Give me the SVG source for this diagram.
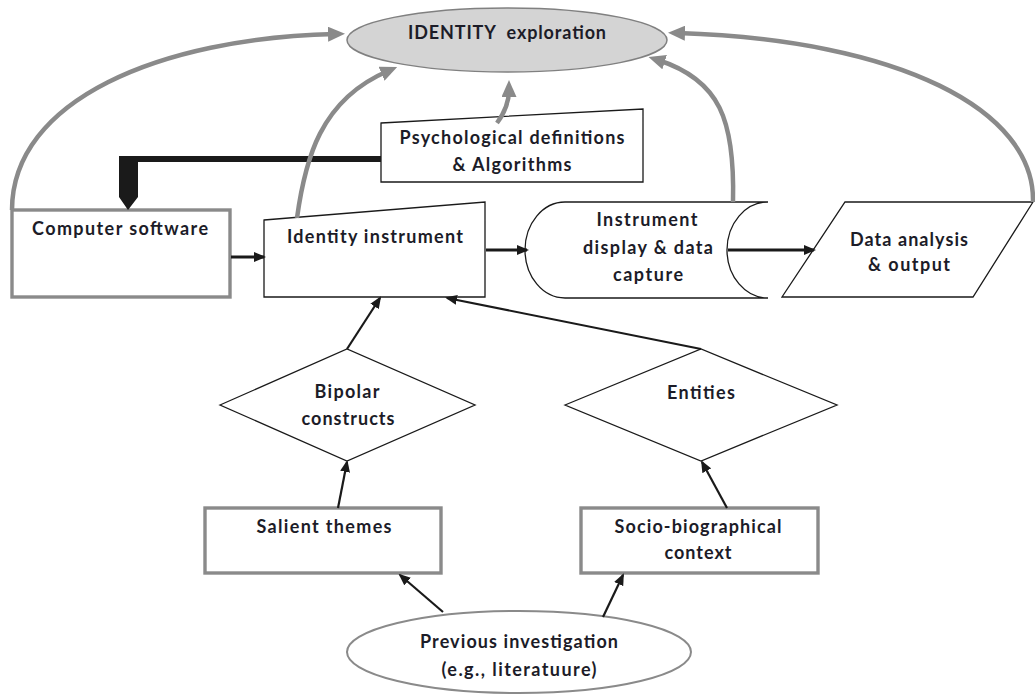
<svg xmlns="http://www.w3.org/2000/svg" width="1035" height="695" viewBox="0 0 1035 695">
  <style>
    .lbl { font-family: Lato, "Open Sans", "Liberation Sans", sans-serif; font-weight: bold; font-size: 18px; fill: #1c1c28; text-anchor: middle; white-space: pre; }
    .thin { fill: #ffffff; stroke: #1a1a1a; stroke-width: 1.3; }
    .grey { fill: #ffffff; stroke: #8a8a8a; stroke-width: 3.4; }
    .flow { fill: none; stroke: #1a1a1a; stroke-width: 2.2; marker-end: url(#arrow-black); }
    .flow-bold { fill: none; stroke: #1a1a1a; stroke-width: 3; marker-end: url(#arrow-black); }
    .feedback { fill: none; stroke: #8a8a8a; stroke-width: 4.5; marker-end: url(#arrow-grey); }
  </style>
  <defs>
    <marker id="arrow-black" markerUnits="userSpaceOnUse" markerWidth="12" markerHeight="10" viewBox="0 0 12 10" refX="10" refY="5" orient="auto">
      <path d="M0,0 L12,5 L0,10 z" fill="#1a1a1a"/>
    </marker>
    <marker id="arrow-grey" markerUnits="userSpaceOnUse" markerWidth="17" markerHeight="15" viewBox="0 0 17 15" refX="7" refY="7.5" orient="auto">
      <path d="M0,0 L17,7.5 L0,15 z" fill="#8a8a8a"/>
    </marker>
  </defs>

  <!-- top goal -->
  <g id="identity-exploration">
    <ellipse cx="507" cy="40" rx="160" ry="32" fill="#d4d4d4" stroke="#808080" stroke-width="1.5"/>
    <text class="lbl" x="507" y="39" textLength="198">IDENTITY  exploration</text>
  </g>

  <g id="psychological-definitions">
    <polygon class="thin" points="381,123 643,109 643,182 381,182"/>
    <text class="lbl" x="512" y="144" textLength="225">Psychological definitions</text>
    <text class="lbl" x="512" y="171" textLength="119">&amp; Algorithms</text>
  </g>

  <g id="computer-software">
    <rect class="grey" x="12" y="210" width="218" height="87"/>
    <text class="lbl" x="120" y="235" textLength="176">Computer software</text>
  </g>

  <g id="identity-instrument">
    <polygon class="thin" points="264,220 485,202 485,297 264,297"/>
    <text class="lbl" x="375" y="243" textLength="176">Identity instrument</text>
  </g>

  <g id="instrument-display">
    <path class="thin" d="M565,202 L768,202 A41,48 0 0 0 768,298 L565,298 A40,48 0 0 1 565,202 Z"/>
    <text class="lbl" x="647" y="226" textLength="101">Instrument</text>
    <text class="lbl" x="648" y="254" textLength="130">display &amp; data</text>
    <text class="lbl" x="648" y="281" textLength="70">capture</text>
  </g>

  <g id="data-analysis">
    <polygon class="thin" points="845,202 1033,202 973,297 782,297"/>
    <text class="lbl" x="909" y="246" textLength="118">Data analysis</text>
    <text class="lbl" x="909" y="271" textLength="82">&amp; output</text>
  </g>

  <g id="bipolar-constructs">
    <polygon class="thin" points="220,405 347,349 475,405 347,461"/>
    <text class="lbl" x="347" y="398" textLength="65">Bipolar</text>
    <text class="lbl" x="348" y="425" textLength="93">constructs</text>
  </g>

  <g id="entities">
    <polygon class="thin" points="565,405 701,349 837,405 701,461"/>
    <text class="lbl" x="701" y="399" textLength="68">Entities</text>
  </g>

  <g id="salient-themes">
    <rect class="grey" x="205" y="508" width="236" height="65"/>
    <text class="lbl" x="324" y="533" textLength="135">Salient themes</text>
  </g>

  <g id="socio-biographical">
    <rect class="grey" x="581" y="508" width="237" height="65"/>
    <text class="lbl" x="698" y="533" textLength="167">Socio-biographical</text>
    <text class="lbl" x="698" y="559" textLength="67">context</text>
  </g>

  <g id="previous-investigation">
    <ellipse cx="519" cy="652" rx="172" ry="41" fill="#ffffff" stroke="#8a8a8a" stroke-width="2"/>
    <text class="lbl" x="519" y="648" textLength="198">Previous investigation</text>
    <text class="lbl" x="519" y="676" textLength="155">(e.g., literatuure)</text>
  </g>

  <g id="connectors">
    <!-- definitions feed the software: heavy block connector -->
    <polygon points="119,156 381,156 381,162 138,162 138,197 128,210 119,197" fill="#1a1a1a"/>

    <!-- main flow -->
    <line class="flow-bold" x1="231" y1="257" x2="264" y2="257"/>
    <line class="flow-bold" x1="486" y1="250" x2="527" y2="250"/>
    <line class="flow-bold" x1="728" y1="250" x2="814" y2="250"/>

    <!-- inputs to the instrument -->
    <line class="flow" x1="347" y1="349" x2="380" y2="298"/>
    <line class="flow" x1="701" y1="349" x2="447" y2="298"/>
    <line class="flow" x1="338" y1="508" x2="347" y2="462"/>
    <line class="flow" x1="727" y1="508" x2="702" y2="462"/>
    <line class="flow" x1="443" y1="612" x2="400" y2="575"/>
    <line class="flow" x1="603" y1="617" x2="623" y2="575"/>

    <!-- feedback to identity exploration -->
    <path class="feedback" d="M12,210 C12,100 160,38 335,34"/>
    <path class="feedback" d="M297,218 C305,160 320,100 388,71"/>
    <path class="feedback" d="M497,123 C505,112 509,102 509,90"/>
    <path class="feedback" d="M733,202 C735,120 720,80 658,60"/>
    <path class="feedback" d="M1033,202 C1035,110 900,40 678,33"/>
  </g>
</svg>
